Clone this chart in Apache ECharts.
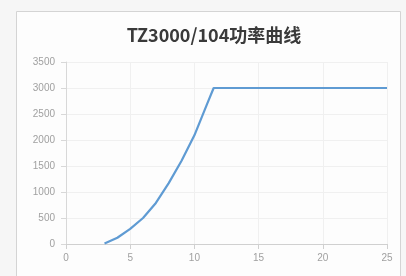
<!DOCTYPE html>
<html>
<head>
<meta charset="utf-8">
<script src="https://cdn.jsdelivr.net/npm/echarts@6/dist/echarts.min.js"></script>
<style>html,body{margin:0;padding:0;background:#f6f6f6;}#c{width:406px;height:276px;}</style>
</head>
<body>
<div id="c"></div>
<script>
var titleText = "TZ3000/104功率曲线";
var windSpeed = [3, 4, 5, 6, 7, 8, 9, 10, 11, 11.5, 12, 13, 14, 15, 16, 17, 18, 19, 20, 21, 22, 23, 24, 25];
var power = [10, 120, 290, 500, 790, 1170, 1600, 2090, 2700, 3000, 3000, 3000, 3000, 3000, 3000, 3000, 3000, 3000, 3000, 3000, 3000, 3000, 3000, 3000];
var xTicks = [0, 5, 10, 15, 20, 25];
var yTicks = [0, 500, 1000, 1500, 2000, 2500, 3000, 3500];

var chart = echarts.init(document.getElementById('c'), null, {renderer: 'canvas'});
var data = windSpeed.map(function (w, i) { return [w, power[i]]; });
chart.setOption({
  backgroundColor: '#f6f6f6',
  animation: false,
  graphic: [{
    type: 'rect', z: -10,
    shape: {x: 16.5, y: 11.5, width: 384, height: 270},
    style: {fill: '#fdfdfd', stroke: '#d4d4d4', lineWidth: 1}
  }],
  title: {
    text: titleText,
    left: 209, top: 21, textAlign: 'center',
    textStyle: {fontSize: 18, fontWeight: 'bold', color: '#3a3a3a', fontFamily: '"Noto Sans CJK SC", sans-serif'}
  },
  grid: {left: 66, right: 19, top: 62, bottom: 32},
  xAxis: {
    type: 'value', min: xTicks[0], max: xTicks[xTicks.length - 1], interval: 5,
    axisLine: {show: true, lineStyle: {color: '#d0d0d0'}},
    axisTick: {show: true, lineStyle: {color: '#d0d0d0'}},
    axisLabel: {color: '#a0a0a0', fontSize: 10, margin: 9, formatter: function (v) { return String(v); }},
    splitLine: {show: true, lineStyle: {color: '#f0f0f0'}}
  },
  yAxis: {
    type: 'value', min: yTicks[0], max: yTicks[yTicks.length - 1], interval: 500,
    axisLine: {show: true, lineStyle: {color: '#d8d8d8'}},
    axisTick: {show: true, lineStyle: {color: '#d8d8d8'}},
    axisLabel: {color: '#a0a0a0', fontSize: 10, margin: 11, formatter: function (v) { return String(v); }},
    splitLine: {show: true, lineStyle: {color: '#f0f0f0'}}
  },
  series: [{
    type: 'line', data: data, smooth: false, showSymbol: false,
    lineStyle: {color: '#5f9bd3', width: 2.2, join: 'round'}
  }]
});
</script>
</body>
</html>
